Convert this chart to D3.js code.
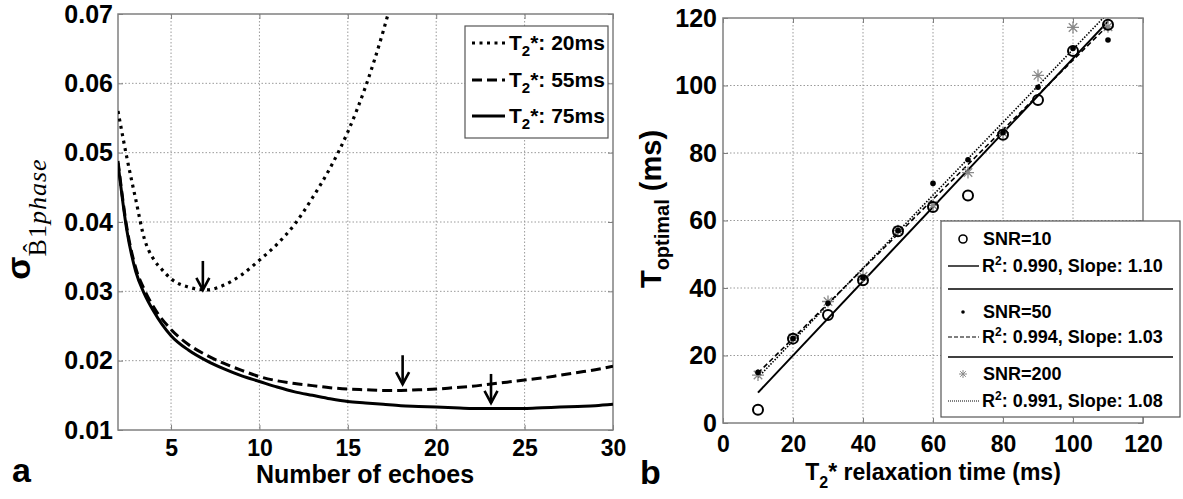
<!DOCTYPE html>
<html>
<head>
<meta charset="utf-8">
<script src="https://cdn.jsdelivr.net/npm/d3@7"></script>
<style>
  body { margin: 0; background: #fff; }
  svg { display: block; }
  text { font-family: "Liberation Sans", Arial, sans-serif; font-weight: bold; fill: #000; }
</style>
</head>
<body>
<svg id="fig" width="1183" height="499"></svg>
<script>
// ---------------- data ----------------
// (a) standard deviation of the B1 phase estimate vs number of echoes
const echoesT2s20 = [2, 2.5, 3, 3.5, 4, 4.5, 5, 6, 7, 8, 9, 10, 11, 12, 13, 14, 15, 16, 17, 18];
const sigmaT2s20  = [0.0560, 0.0493, 0.0433, 0.0375, 0.0347, 0.0331, 0.0318, 0.0306, 0.0302, 0.0309,
                     0.0324, 0.0345, 0.0368, 0.0397, 0.0435, 0.0478, 0.0530, 0.0595, 0.0675, 0.0770];
const echoes      = [2, 2.5, 3, 3.5, 4, 5, 6, 7, 8, 9, 10, 11, 12, 13, 14, 15, 16, 17, 18, 19, 20,
                     21, 22, 23, 24, 25, 26, 27, 28, 29, 30];
const sigmaT2s55  = [0.0488, 0.0392, 0.0334, 0.0302, 0.0278, 0.0245, 0.0223, 0.0208, 0.0196, 0.0186, 0.0177,
                     0.0171, 0.0167, 0.0164, 0.0161, 0.0159, 0.0158, 0.0157, 0.0157, 0.0158, 0.0159,
                     0.0161, 0.0163, 0.0166, 0.0169, 0.0172, 0.0175, 0.0179, 0.0183, 0.0187, 0.0192];
const sigmaT2s75  = [0.0485, 0.0388, 0.0329, 0.0296, 0.0272, 0.0236, 0.0215, 0.0200, 0.0188, 0.0178, 0.0170,
                     0.0162, 0.0155, 0.0150, 0.0145, 0.0141, 0.0139, 0.0137, 0.0135, 0.0134, 0.0133,
                     0.0132, 0.0131, 0.0131, 0.0131, 0.0131, 0.0132, 0.0133, 0.0134, 0.0135, 0.0137];
const seriesT2s   = ["20ms", "55ms", "75ms"];
// optimal echo numbers marked with arrows, and the sigma value at each arrow tip
const arrowEchoes = [6.8, 18.1, 23.1];
const arrowSigma  = [0.0302, 0.0166, 0.0139];
const xTicksA = [5, 10, 15, 20, 25, 30];
const yTicksA = [0.01, 0.02, 0.03, 0.04, 0.05, 0.06, 0.07];

// (b) optimal echo time vs T2* relaxation time
const relaxTimes  = [10, 20, 30, 40, 50, 60, 70, 80, 90, 100, 110];
const toptSNR10   = [3.9, 25.0, 32.0, 42.3, 56.8, 64.0, 67.4, 85.4, 95.7, 110.2, 118.0];
const toptSNR50   = [15.0, 25.0, 35.5, 43.0, 57.0, 71.0, 78.0, 86.0, 99.5, 111.0, 113.5];
const toptSNR200  = [14.2, 25.2, 36.0, 43.5, 57.0, 64.5, 74.2, 86.0, 103.0, 117.2, 117.4];
const snrLevels   = [10, 50, 200];
const fitR2       = ["0.990", "0.994", "0.991"];
const fitSlopes   = [1.10, 1.03, 1.08];
const fitIntercepts = [-2.0, 4.5, 2.7];
const xTicksB = [0, 20, 40, 60, 80, 100, 120];
const yTicksB = [0, 20, 40, 60, 80, 100, 120];

// ---------------- drawing ----------------
const svg = d3.select("#fig");
const FONT = "Liberation Sans, Arial, sans-serif";
const gridColor = "#9a9a9a";
const frameColor = "#808080";

function styleAxis(g, size) {
  g.attr("font-family", FONT).attr("font-weight", "bold").attr("font-size", size);
  g.select(".domain").remove();
  g.selectAll(".tick line").attr("stroke", frameColor);
}

function framedAxes(x, y, box, xt, yt, xFmt, yFmt, opts) {
  const g = svg.append("g");
  // grid
  g.append("g").selectAll("line").data(xt.filter(v => x(v) > box.left + 1 && x(v) < box.right - 1)).join("line")
    .attr("x1", d => x(d)).attr("x2", d => x(d)).attr("y1", box.top).attr("y2", box.bottom)
    .attr("stroke", gridColor).attr("stroke-width", 1).attr("stroke-dasharray", "1.5,2");
  g.append("g").selectAll("line").data(yt.filter(v => y(v) > box.top + 1 && y(v) < box.bottom - 1)).join("line")
    .attr("y1", d => y(d)).attr("y2", d => y(d)).attr("x1", box.left).attr("x2", box.right)
    .attr("stroke", gridColor).attr("stroke-width", 1).attr("stroke-dasharray", "1.5,2");
  // frame
  g.append("rect").attr("x", box.left).attr("y", box.top)
    .attr("width", box.right - box.left).attr("height", box.bottom - box.top)
    .attr("fill", "none").attr("stroke", frameColor).attr("stroke-width", 1.5);
  // axes with inward ticks
  g.append("g").attr("transform", `translate(0,${box.bottom})`)
    .call(d3.axisBottom(x).tickValues(xt).tickSizeInner(-5).tickSizeOuter(0).tickPadding(opts.xPad).tickFormat(xFmt))
    .call(a => styleAxis(a, opts.xSize));
  g.append("g").attr("transform", `translate(${box.left},0)`)
    .call(d3.axisLeft(y).tickValues(yt).tickSizeInner(-5).tickSizeOuter(0).tickPadding(opts.yPad).tickFormat(yFmt))
    .call(a => styleAxis(a, opts.ySize));
  g.append("g").attr("transform", `translate(0,${box.top})`)
    .call(d3.axisTop(x).tickValues(xt).tickSizeInner(-5).tickSizeOuter(0).tickFormat(""))
    .call(a => styleAxis(a, 10));
  g.append("g").attr("transform", `translate(${box.right},0)`)
    .call(d3.axisRight(y).tickValues(yt).tickSizeInner(-5).tickSizeOuter(0).tickFormat(""))
    .call(a => styleAxis(a, 10));
  return g;
}

// ===== panel a =====
const boxA = { left: 118, right: 613, top: 14, bottom: 430 };
const xA = d3.scaleLinear().domain([2, 30]).range([boxA.left, boxA.right]);
const yA = d3.scaleLinear().domain([0.01, 0.07]).range([boxA.bottom, boxA.top]);
framedAxes(xA, yA, boxA, xTicksA, yTicksA, d3.format("d"), d3.format(".2f"),
  { xPad: 10, yPad: 5, xSize: 23, ySize: 25 });

svg.append("clipPath").attr("id", "clipA").append("rect")
  .attr("x", boxA.left).attr("y", boxA.top)
  .attr("width", boxA.right - boxA.left).attr("height", boxA.bottom - boxA.top);

const curveStyles = [
  { dash: "3,4.5", width: 3.2 },
  { dash: "10,5", width: 3 },
  { dash: null, width: 3 }
];
const curvesA = [
  echoesT2s20.map((e, i) => [e, sigmaT2s20[i]]),
  echoes.map((e, i) => [e, sigmaT2s55[i]]),
  echoes.map((e, i) => [e, sigmaT2s75[i]])
];
const lineA = d3.line().x(d => xA(d[0])).y(d => yA(d[1])).curve(d3.curveMonotoneX);
const gCurves = svg.append("g").attr("clip-path", "url(#clipA)");
curvesA.forEach((pts, i) => {
  gCurves.append("path").attr("d", lineA(pts)).attr("fill", "none").attr("stroke", "#000")
    .attr("stroke-width", curveStyles[i].width)
    .attr("stroke-dasharray", curveStyles[i].dash);
});

// arrows pointing at the minima
const gArrows = svg.append("g").attr("stroke", "#000").attr("stroke-width", 2.6).attr("fill", "none");
arrowEchoes.forEach((e, i) => {
  const ax = xA(e), tip = yA(arrowSigma[i]);
  gArrows.append("line").attr("x1", ax).attr("x2", ax).attr("y1", tip - 29).attr("y2", tip);
  gArrows.append("path").attr("d", `M${ax - 6.5},${tip - 12}L${ax},${tip}L${ax + 6.5},${tip - 12}`);
});

// legend a
const legA = svg.append("g");
legA.append("rect").attr("x", 465).attr("y", 26).attr("width", 143).attr("height", 112)
  .attr("fill", "#fff").attr("stroke", "#555").attr("stroke-width", 1.2);
const legRowsA = [43, 80, 116];
seriesT2s.forEach((lab, i) => {
  const cy = legRowsA[i];
  legA.append("line").attr("x1", 472).attr("x2", 505).attr("y1", cy).attr("y2", cy)
    .attr("stroke", "#000").attr("stroke-width", curveStyles[i].width)
    .attr("stroke-dasharray", curveStyles[i].dash);
  const t = legA.append("text").attr("x", 509).attr("y", cy + 7).attr("font-size", 21);
  t.append("tspan").text("T");
  t.append("tspan").attr("font-size", 15).attr("dy", 6).text("2");
  t.append("tspan").attr("dy", -6).text("*: " + lab);
});

// axis titles a
svg.append("text").attr("x", 365).attr("y", 483).attr("text-anchor", "middle")
  .attr("font-size", 25).text("Number of echoes");
const yTitleA = svg.append("text").attr("transform", "translate(30,219) rotate(-90)")
  .attr("text-anchor", "middle");
yTitleA.append("tspan").attr("font-size", 34).text("σ");
yTitleA.append("tspan").attr("dy", 16).attr("font-size", 26).attr("font-weight", "normal")
  .attr("font-family", "Liberation Serif, DejaVu Serif, serif").attr("letter-spacing", 1)
  .text("B\u03021");
yTitleA.append("tspan").attr("font-size", 26).attr("font-weight", "normal").attr("font-style", "italic")
  .attr("font-family", "Liberation Serif, DejaVu Serif, serif").attr("letter-spacing", 1)
  .text("phase");

// panel letter
svg.append("text").attr("x", 12).attr("y", 482).attr("font-size", 34).text("a");

// ===== panel b =====
const boxB = { left: 723, right: 1143, top: 18, bottom: 423 };
const xB = d3.scaleLinear().domain([0, 120]).range([boxB.left, boxB.right]);
const yB = d3.scaleLinear().domain([0, 120]).range([boxB.bottom, boxB.top]);
framedAxes(xB, yB, boxB, xTicksB, yTicksB, d3.format("d"), d3.format("d"),
  { xPad: 13, yPad: 6, xSize: 23, ySize: 25 });

svg.append("clipPath").attr("id", "clipB").append("rect")
  .attr("x", boxB.left).attr("y", boxB.top)
  .attr("width", boxB.right - boxB.left).attr("height", boxB.bottom - boxB.top);

const fitStyles = [
  { dash: null, width: 2, color: "#000" },
  { dash: "5,3", width: 1.6, color: "#000" },
  { dash: "1.5,1.5", width: 1.6, color: "#000" }
];
const gFits = svg.append("g").attr("clip-path", "url(#clipB)");
const tRange = d3.extent(relaxTimes);
fitSlopes.forEach((s, i) => {
  const pts = tRange.map(t => [t, s * t + fitIntercepts[i]]);
  gFits.append("line")
    .attr("x1", xB(pts[0][0])).attr("y1", yB(pts[0][1]))
    .attr("x2", xB(pts[1][0])).attr("y2", yB(pts[1][1]))
    .attr("stroke", fitStyles[i].color).attr("stroke-width", fitStyles[i].width)
    .attr("stroke-dasharray", fitStyles[i].dash);
});

// marker helpers
function starPath(r) {
  const d = r * Math.SQRT1_2;
  return `M${-r},0L${r},0M0,${-r}L0,${r}M${-d},${-d}L${d},${d}M${-d},${d}L${d},${-d}`;
}
const gPts = svg.append("g");
gPts.selectAll(".snr200").data(relaxTimes.map((t, i) => [t, toptSNR200[i]])).join("path")
  .attr("transform", d => `translate(${xB(d[0])},${yB(d[1])})`)
  .attr("d", starPath(6)).attr("stroke", "#8a8a8a").attr("stroke-width", 1.3).attr("fill", "none");
gPts.selectAll(".snr10").data(relaxTimes.map((t, i) => [t, toptSNR10[i]])).join("circle")
  .attr("cx", d => xB(d[0])).attr("cy", d => yB(d[1])).attr("r", 5)
  .attr("fill", "none").attr("stroke", "#000").attr("stroke-width", 2);
gPts.selectAll(".snr50").data(relaxTimes.map((t, i) => [t, toptSNR50[i]])).join("circle")
  .attr("cx", d => xB(d[0])).attr("cy", d => yB(d[1])).attr("r", 2.8)
  .attr("fill", "#000");

// legend b
const legB = svg.append("g");
legB.append("rect").attr("x", 941).attr("y", 221).attr("width", 239).attr("height", 196)
  .attr("fill", "#fff").attr("stroke", "#555").attr("stroke-width", 1.2);
const snrRowY = [245, 318, 380];
const fitRowY = [272, 343, 407];
snrLevels.forEach((snr, i) => {
  const my = snrRowY[i] - 6;
  if (i === 0) legB.append("circle").attr("cx", 963).attr("cy", my).attr("r", 4)
    .attr("fill", "none").attr("stroke", "#000").attr("stroke-width", 1.6);
  if (i === 1) legB.append("circle").attr("cx", 963).attr("cy", my).attr("r", 1.8).attr("fill", "#000");
  if (i === 2) legB.append("path").attr("transform", `translate(963,${my})`).attr("d", starPath(4))
    .attr("stroke", "#8a8a8a").attr("stroke-width", 1).attr("fill", "none");
  legB.append("text").attr("x", 983).attr("y", snrRowY[i]).attr("font-size", 18).text("SNR=" + snr);

  const ly = fitRowY[i] - 6;
  legB.append("line").attr("x1", 948).attr("x2", 979).attr("y1", ly).attr("y2", ly)
    .attr("stroke", "#000").attr("stroke-width", i === 0 ? 1.4 : 1.2)
    .attr("stroke-dasharray", i === 0 ? null : (i === 1 ? "4,2" : "1,1"));
  const t = legB.append("text").attr("x", 982).attr("y", fitRowY[i]).attr("font-size", 18);
  t.append("tspan").text("R");
  t.append("tspan").attr("font-size", 12).attr("dy", -7).text("2");
  t.append("tspan").attr("dy", 7).text(`: ${fitR2[i]}, Slope: ${fitSlopes[i].toFixed(2)}`);
});
[289, 357].forEach(y => legB.append("line").attr("x1", 948).attr("x2", 1173)
  .attr("y1", y).attr("y2", y).attr("stroke", "#000").attr("stroke-width", 1.4));

// axis titles b
const xTitleB = svg.append("text").attr("x", 933).attr("y", 480).attr("text-anchor", "middle")
  .attr("font-size", 23);
xTitleB.append("tspan").text("T");
xTitleB.append("tspan").attr("font-size", 16).attr("dy", 8).text("2");
xTitleB.append("tspan").attr("dy", -8).text("* relaxation time (ms)");

const yTitleB = svg.append("text").attr("transform", "translate(661,209) rotate(-90)")
  .attr("text-anchor", "middle").attr("font-size", 29);
yTitleB.append("tspan").text("T");
yTitleB.append("tspan").attr("font-size", 20).attr("dy", 8).text("optimal");
yTitleB.append("tspan").attr("dy", -8).text(" (ms)");

svg.append("text").attr("x", 640).attr("y", 484).attr("font-size", 34).text("b");
</script>
</body>
</html>
